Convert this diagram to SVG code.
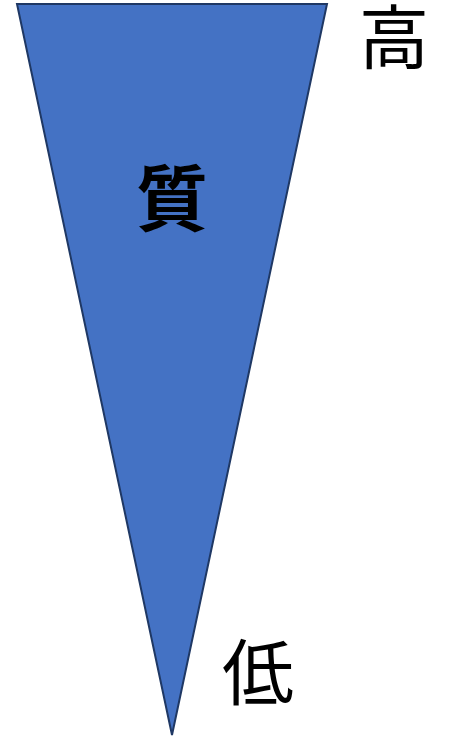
<svg xmlns="http://www.w3.org/2000/svg" width="459" height="739" viewBox="0 0 459 739">
<style>
.lbl{font-family:"Noto Sans CJK JP","Noto Sans CJK SC",sans-serif;font-size:72px;fill:#000;text-anchor:middle}
.b{font-weight:bold}
</style>
<rect width="459" height="739" fill="#fff"/>
<g id="triangle">
<polygon points="17,4 327,4 172,735" fill="#4472C4" stroke="#1F3864" stroke-width="2" stroke-linejoin="miter"/>
<text class="lbl b" x="172" y="225">質</text>
</g>
<g id="high"><text class="lbl" x="394" y="64" style="font-size:70px">高</text></g>
<g id="low"><text class="lbl" x="258" y="699">低</text></g>
</svg>
